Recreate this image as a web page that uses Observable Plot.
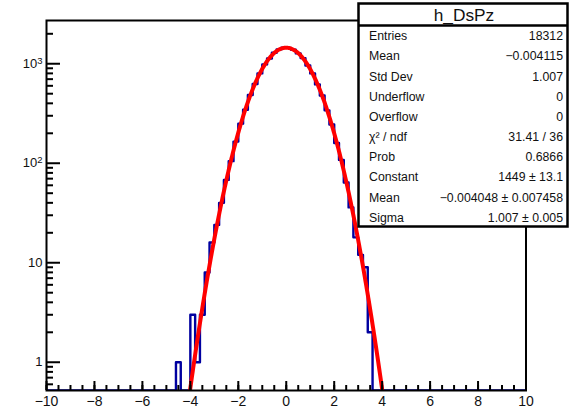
<!DOCTYPE html>
<html>
<head>
<meta charset="utf-8">
<script src="https://cdn.jsdelivr.net/npm/d3@7"></script>
<script src="https://cdn.jsdelivr.net/npm/@observablehq/plot@0.6"></script>
<style>
  html, body { margin: 0; padding: 0; background: #fff; }
  #chart { width: 570px; height: 408px; }
</style>
</head>
<body>
<div id="chart"></div>
<script>
// h_DsPz: 100 bins of width 0.2 on [-10, 10]; only the non-empty region is listed
const binLow = [
  -4.6, -4.4, -4.2, -4.0, -3.8, -3.6, -3.4, -3.2, -3.0, -2.8,
  -2.6, -2.4, -2.2, -2.0, -1.8, -1.6, -1.4, -1.2, -1.0, -0.8,
  -0.6, -0.4, -0.2,  0.0,  0.2,  0.4,  0.6,  0.8,  1.0,  1.2,
   1.4,  1.6,  1.8,  2.0,  2.2,  2.4,  2.6,  2.8,  3.0,  3.2,
   3.4,  3.6
];
const binCounts = [
     1,    0,    0,    3,    1,    3,    8,   16,   24,   40,
    68,  105,  165,  250,  345,  485,  625,  800,  985, 1130,
  1290, 1395, 1450, 1445, 1380, 1270, 1140,  960,  800,  620,
   480,  340,  245,  160,  108,   64,   36,   18,   12,    9,
     2,    0
];
const binWidth = 0.2;

// Gaussian fit result
const fitConstant = 1449, fitConstantErr = 13.1;
const fitMean = -0.004048, fitMeanErr = 0.007458;
const fitSigma = 1.007, fitSigmaErr = 0.005;
const chi2 = 31.41, ndf = 36, prob = 0.6866;

// histogram statistics
const entries = 18312, histMean = -0.004115, histStdDev = 1.007;
const underflow = 0, overflow = 0;

// axes
const xTicks = [-10, -8, -6, -4, -2, 0, 2, 4, 6, 8, 10];
const xMinorTicks = d3.range(-10, 10.001, 0.5);
const yTicks = [1, 10, 100, 1000];
const yTickBase = ["1", "10", "10", "10"];
const yTickExp = ["", "", "2", "3"];
const yMinorTicks = [0.6, 0.7, 0.8, 0.9, 2, 3, 4, 5, 6, 7, 8, 9,
  20, 30, 40, 50, 60, 70, 80, 90, 200, 300, 400, 500, 600, 700, 800, 900, 2000];
const xDomain = [-10, 10];
const yDomain = [0.52, 2720];
const yFloor = yDomain[0];

// step outline: one point per bin edge, closing at the last edge
const steps = binLow.map((x, i) => ({x, y: Math.max(binCounts[i], yFloor)}));
steps.unshift({x: xDomain[0], y: yFloor});
steps.push({x: binLow[binLow.length - 1] + binWidth, y: yFloor});
steps.push({x: xDomain[1], y: yFloor});

// fitted gaussian, evaluated along x
const gauss = x => fitConstant * Math.exp(-0.5 * ((x - fitMean) / fitSigma) ** 2);
const fitCurve = d3.range(-5, 5.0001, 0.02).map(x => ({x, y: gauss(x)}));

const fmtMinus = s => s.replace("-", "\u2212");
const statNames = ["Entries", "Mean", "Std Dev", "Underflow", "Overflow",
  "\u03c7\u00b2 / ndf", "Prob", "Constant", "Mean", "Sigma"];
const statValues = [
  String(entries),
  fmtMinus(String(histMean)),
  histStdDev.toFixed(3),
  String(underflow),
  String(overflow),
  `${chi2} / ${ndf}`,
  String(prob),
  `${fitConstant} \u00b1 ${fitConstantErr}`,
  `${fmtMinus(String(fitMean))} \u00b1 ${fitMeanErr}`,
  `${fitSigma.toFixed(3)} \u00b1 ${fitSigmaErr.toFixed(3)}`
];

const chart = Plot.plot({
  width: 570,
  height: 408,
  marginLeft: 46,
  marginRight: 44.5,
  marginTop: 20,
  marginBottom: 18,
  style: {fontFamily: "'Liberation Sans', Arial, sans-serif", fontSize: "14px", background: "#fff", color: "#111"},
  x: {domain: xDomain, label: null},
  y: {type: "log", domain: yDomain, label: null},
  marks: [
    Plot.line(steps, {x: "x", y: "y", curve: "step-after", stroke: "#0000a0", strokeWidth: 2.4, clip: true}),
    Plot.line(fitCurve, {x: "x", y: "y", stroke: "#ff0000", strokeWidth: 4, clip: true}),
    // inward ticks on the bottom axis
    Plot.ruleX(xMinorTicks, {x: d => d, y1: yFloor, y2: yFloor, insetTop: -5, stroke: "#000", strokeWidth: 2}),
    Plot.ruleX(xTicks, {x: d => d, y1: yFloor, y2: yFloor, insetTop: -9, stroke: "#000", strokeWidth: 2}),
    // inward ticks on the left axis
    Plot.ruleY(yMinorTicks, {y: d => d, x1: xDomain[0], x2: xDomain[0], insetRight: -7, stroke: "#000", strokeWidth: 2}),
    Plot.ruleY(yTicks, {y: d => d, x1: xDomain[0], x2: xDomain[0], insetRight: -14, stroke: "#000", strokeWidth: 2}),
    Plot.frame({stroke: "#000", strokeWidth: 2}),
    Plot.axisX({ticks: xTicks, tickSize: 0, tickPadding: 6, fontSize: 14, tickFormat: d => fmtMinus(String(d))}),
    Plot.axisY({ticks: yTicks, tickSize: 0, tickPadding: 4, fontSize: 13,
      tickFormat: d => yTickBase[yTicks.indexOf(d)] + yTickExp[yTicks.indexOf(d)]})
  ]
});
document.getElementById("chart").append(chart);

const svg = d3.select(chart);

// power-of-ten labels on the log axis: raise the exponent as a superscript
svg.selectAll("g[aria-label='y-axis tick label'] text").each(function () {
  const label = d3.select(this).text();
  const i = yTicks.findIndex((t, k) => yTickBase[k] + yTickExp[k] === label);
  if (i < 0 || !yTickExp[i]) return;
  const t = d3.select(this).text(null);
  t.append("tspan").text(yTickBase[i]);
  t.append("tspan").attr("dy", "-0.45em").attr("font-size", 9.5).text(yTickExp[i]);
});

// statistics pave in the upper right corner
const pave = svg.append("g").attr("font-family", "'Liberation Sans', Arial, sans-serif")
  .attr("fill", "#111").attr("text-anchor", "start");
pave.append("rect").attr("x", 358.5).attr("y", 3.5).attr("width", 209).attr("height", 223)
  .attr("fill", "#fff").attr("stroke", "#000").attr("stroke-width", 2.5);
pave.append("line").attr("x1", 358.5).attr("x2", 567.5).attr("y1", 25.5).attr("y2", 25.5)
  .attr("stroke", "#000").attr("stroke-width", 2.5);
pave.append("text").attr("x", 464).attr("y", 20.5).attr("text-anchor", "middle")
  .attr("font-size", 17.3).text("h_DsPz");
statNames.forEach((name, i) => {
  const y = 36 + i * 20.15;
  pave.append("text").attr("x", 369).attr("y", y).attr("dy", "0.35em")
    .attr("text-anchor", "start").attr("font-size", 12.3).text(name);
  pave.append("text").attr("x", 563).attr("y", y).attr("dy", "0.35em")
    .attr("text-anchor", "end").attr("font-size", 12.3).text(statValues[i]);
});
</script>
</body>
</html>
